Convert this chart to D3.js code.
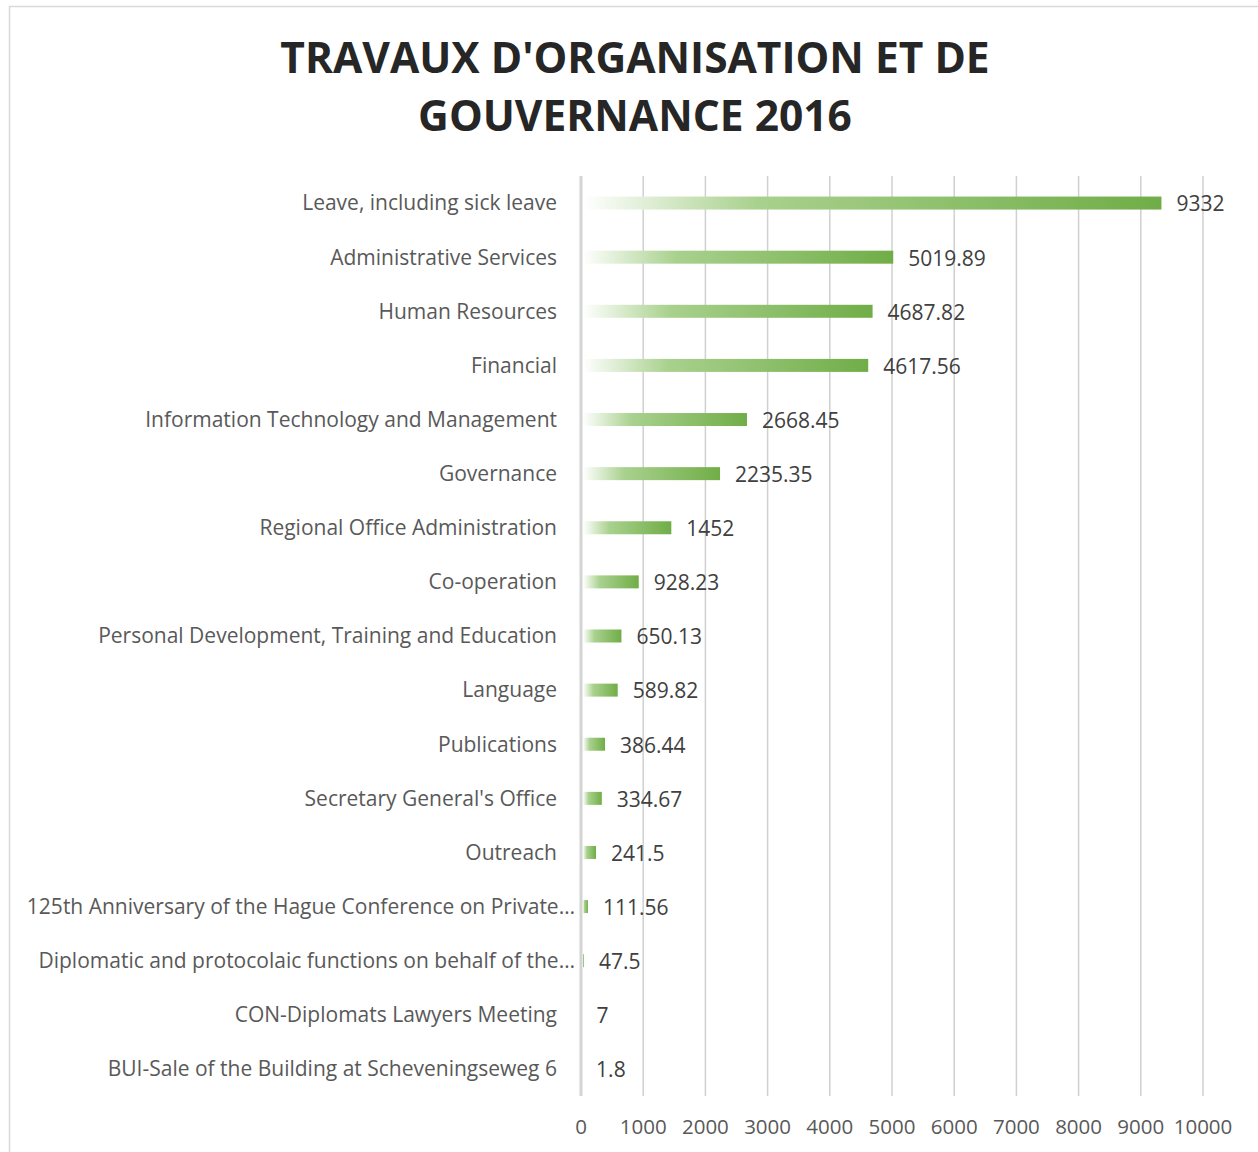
<!DOCTYPE html>
<html>
<head>
<meta charset="utf-8">
<script src="https://cdn.jsdelivr.net/npm/d3@7"></script>
<style>
  body { margin: 0; background: #fff; }
  svg { display: block; font-family: 'Open Sans', sans-serif; }
</style>
</head>
<body>
<svg width="1258" height="1152"></svg>
<script>
'use strict';

/* Categories, top to bottom. */
var categories = [
  'Leave, including sick leave',
  'Administrative Services',
  'Human Resources',
  'Financial',
  'Information Technology and Management',
  'Governance',
  'Regional Office Administration',
  'Co-operation',
  'Personal Development, Training and Education',
  'Language',
  'Publications',
  'Secretary General\'s Office',
  'Outreach',
  '125th Anniversary of the Hague Conference on Private\u2026',
  'Diplomatic and protocolaic functions on behalf of the\u2026',
  'CON-Diplomats Lawyers Meeting',
  'BUI-Sale of the Building at Scheveningseweg 6'
];

/* Hours per category. */
var values = [9332, 5019.89, 4687.82, 4617.56, 2668.45, 2235.35, 1452, 928.23,
  650.13, 589.82, 386.44, 334.67, 241.5, 111.56, 47.5, 7, 1.8];

/* Axis ticks. */
var ticks = [0, 1000, 2000, 3000, 4000, 5000, 6000, 7000, 8000, 9000, 10000];

var titleLines = ['TRAVAUX D\'ORGANISATION ET DE', 'GOUVERNANCE 2016'];

var data = categories.map(function (c, i) {
  return {category: c, value: values[i]};
});

var svg = d3.select('svg');

/* Chart frame. */
svg.append('rect')
  .attr('x', 9.5).attr('y', 6.5)
  .attr('width', 1260).attr('height', 1160)
  .attr('fill', '#fff')
  .attr('stroke', '#d9d9d9')
  .attr('stroke-width', 1.5);

/* Bar gradient. */
var grad = svg.append('defs').append('linearGradient')
  .attr('id', 'bar-grad')
  .attr('x1', '0%').attr('x2', '100%').attr('y1', '0%').attr('y2', '0%');
grad.append('stop').attr('offset', '0%').attr('stop-color', '#ffffff');
grad.append('stop').attr('offset', '30%').attr('stop-color', '#a9d18e');
grad.append('stop').attr('offset', '100%').attr('stop-color', '#70ad47');

/* Title. */
svg.append('text')
  .attr('x', 635)
  .attr('y', 73)
  .attr('text-anchor', 'middle')
  .attr('font-size', 42.5)
  .attr('font-weight', 'bold')
  .attr('fill', '#262626')
  .selectAll('tspan')
  .data(titleLines)
  .enter()
  .append('tspan')
  .attr('x', 635)
  .attr('dy', function (d, i) { return i ? 58 : 0; })
  .text(function (d) { return d; });

var x = d3.scaleLinear().domain([0, 10000]).range([581, 1203]);
var y = d3.scaleBand().domain(categories).range([176, 1096]);

/* Gridlines. */
svg.append('g')
  .selectAll('line')
  .data(ticks.slice(1))
  .enter()
  .append('line')
  .attr('x1', x).attr('x2', x)
  .attr('y1', 176).attr('y2', 1096)
  .attr('stroke', '#d0d0d0')
  .attr('stroke-width', 1.5);

/* Bars. */
svg.append('g')
  .selectAll('rect')
  .data(data)
  .enter()
  .append('rect')
  .attr('x', x(0) + 2)
  .attr('y', function (d) { return y(d.category) + y.bandwidth() / 2 - 6.5; })
  .attr('width', function (d) { return Math.max(0, x(d.value) - x(0) - 2); })
  .attr('height', 13)
  .attr('fill', 'url(#bar-grad)');

/* Zero axis. */
svg.append('line')
  .attr('x1', x(0)).attr('x2', x(0))
  .attr('y1', 176).attr('y2', 1096)
  .attr('stroke', '#d4d4d4')
  .attr('stroke-width', 3);

/* Category labels. Truncated ones run up to the axis. */
svg.append('g')
  .selectAll('text')
  .data(data)
  .enter()
  .append('text')
  .attr('x', function (d) { return /\u2026$/.test(d.category) ? 575 : 557; })
  .attr('y', function (d) { return y(d.category) + y.bandwidth() / 2; })
  .attr('dy', '0.35em')
  .attr('text-anchor', 'end')
  .attr('font-size', 21)
  .attr('fill', '#595959')
  .text(function (d) { return d.category; });

/* Value labels. */
svg.append('g')
  .selectAll('text')
  .data(data)
  .enter()
  .append('text')
  .attr('x', function (d) { return x(d.value) + 15; })
  .attr('y', function (d) { return y(d.category) + y.bandwidth() / 2 + 1; })
  .attr('dy', '0.35em')
  .attr('font-size', 21)
  .attr('fill', '#404040')
  .text(function (d) { return d.value; });

/* Tick labels. */
svg.append('g')
  .selectAll('text')
  .data(ticks)
  .enter()
  .append('text')
  .attr('x', x)
  .attr('y', 1127)
  .attr('dy', '0.35em')
  .attr('text-anchor', 'middle')
  .attr('font-size', 20.5)
  .attr('fill', '#595959')
  .text(function (d) { return d; });
</script>
</body>
</html>
